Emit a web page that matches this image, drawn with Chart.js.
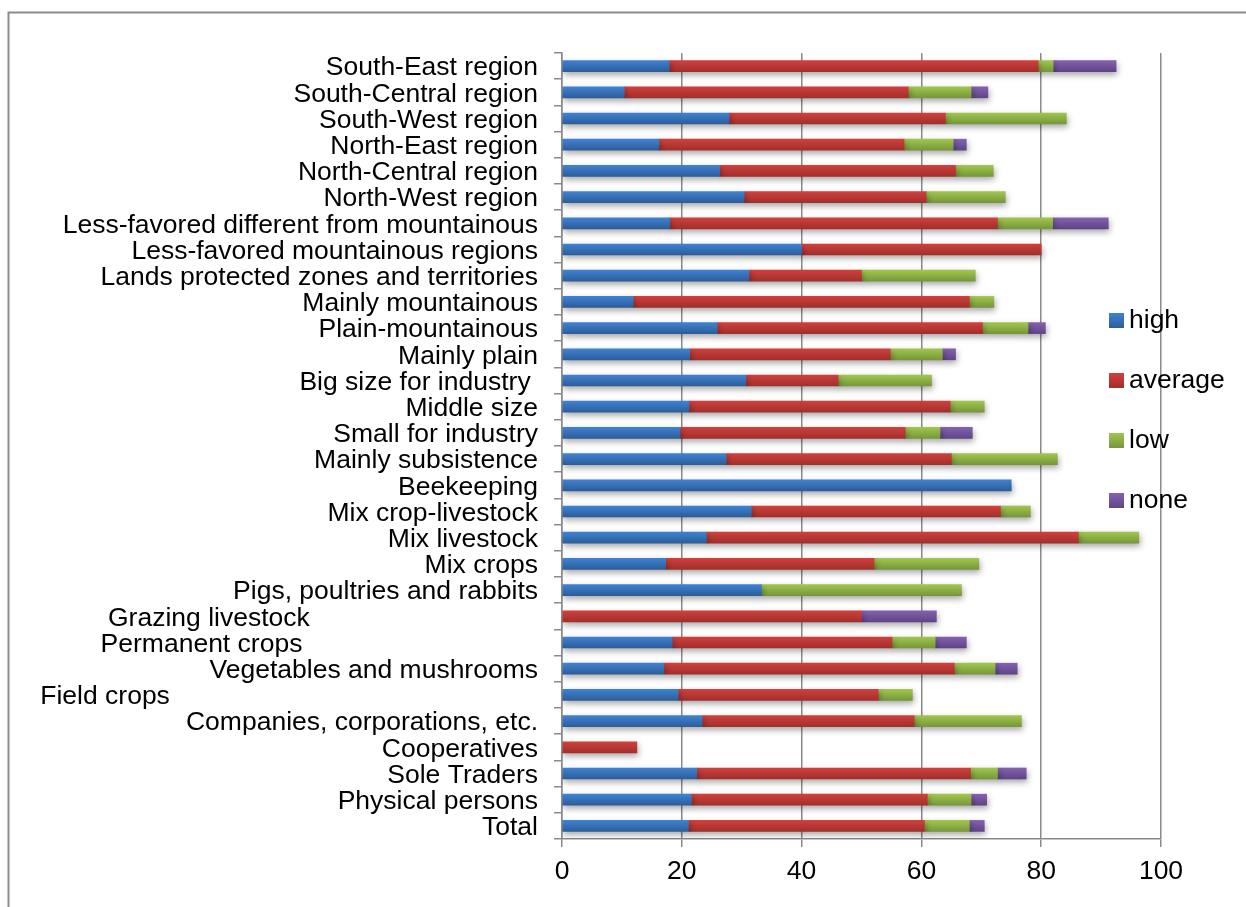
<!DOCTYPE html>
<html>
<head>
<meta charset="utf-8">
<title>Farm groups by level</title>
<script src="https://cdn.jsdelivr.net/npm/chart.js@4/dist/chart.umd.min.js"></script>
<style>
  html, body { margin: 0; padding: 0; background: #fff; }
  #wrap { position: relative; width: 1246px; height: 907px; overflow: hidden; }
  canvas { display: block; }
</style>
</head>
<body>
<div id="wrap"><canvas id="chart" width="1246" height="907"></canvas></div>
<script>
// Categories, top to bottom (trailing spaces kept as in the source labels)
const categories = [
  'South-East region',
  'South-Central region',
  'South-West region',
  'North-East region',
  'North-Central region',
  'North-West region',
  'Less-favored different from mountainous',
  'Less-favored mountainous regions',
  'Lands protected zones and territories',
  'Mainly mountainous',
  'Plain-mountainous',
  'Mainly plain',
  'Big size for industry ',
  'Middle size',
  'Small for industry',
  'Mainly subsistence',
  'Beekeeping',
  'Mix crop-livestock',
  'Mix livestock',
  'Mix crops',
  'Pigs, poultries and rabbits',
  'Grazing livestock                               ',
  'Permanent crops                                ',
  'Vegetables and mushrooms',
  'Field crops                                                  ',
  'Companies, corporations, etc.',
  'Cooperatives',
  'Sole Traders',
  'Physical persons',
  'Total'
];

const highValues = [17.9, 10.4, 27.9, 16.2, 26.3, 30.4, 18.0, 40.0, 31.2, 11.9,
                    25.9, 21.3, 30.7, 21.2, 19.7, 27.4, 75.0, 31.6, 24.1, 17.3,
                    33.3, 0, 18.4, 17.0, 19.4, 23.4, 0, 22.5, 21.6, 21.1];
const averageValues = [61.6, 47.4, 36.1, 40.9, 39.4, 30.4, 54.7, 40.0, 18.8, 56.1,
                       44.3, 33.5, 15.4, 43.6, 37.6, 37.6, 0, 41.6, 62.1, 34.8,
                       0, 50.0, 36.7, 48.5, 33.4, 35.4, 12.5, 45.7, 39.4, 39.4];
const lowValues = [2.5, 10.5, 20.2, 8.2, 6.3, 13.2, 9.2, 0, 19.0, 4.1,
                   7.6, 8.7, 15.6, 5.7, 5.8, 17.7, 0, 5.0, 10.1, 17.5,
                   33.4, 0, 7.2, 6.8, 5.7, 17.9, 0, 4.5, 7.3, 7.5];
const noneValues = [10.5, 2.8, 0, 2.2, 0, 0, 9.3, 0, 0, 0,
                    2.9, 2.2, 0, 0, 5.4, 0, 0, 0, 0, 0,
                    0, 12.5, 5.2, 3.7, 0, 0, 0, 4.8, 2.6, 2.5];

const seriesNames = ['high', 'average', 'low', 'none'];
const xTickValues = [0, 20, 40, 60, 80, 100];

// Top / bottom shades for each series
const shades = {
  high:    ['#3f82d2', '#2d5d99'],
  average: ['#d0403c', '#a12f2c'],
  low:     ['#a0c64e', '#77973a'],
  none:    ['#8461b0', '#5e4585']
};

const BAR_THICKNESS = 11;
const FONT = "'Liberation Sans', Arial, sans-serif";
const FONT_SIZE = 26.5;

function barFill(name) {
  return (ctx) => {
    const chart = ctx.chart;
    const yScale = chart.scales && chart.scales.y;
    if (!chart.chartArea || !yScale || ctx.dataIndex === undefined) return shades[name][0];
    const c = yScale.getPixelForValue(ctx.dataIndex);
    const g = chart.ctx.createLinearGradient(0, c - BAR_THICKNESS / 2, 0, c + BAR_THICKNESS / 2);
    g.addColorStop(0, shades[name][0]);
    g.addColorStop(1, shades[name][1]);
    return g;
  };
}

const seriesData = [highValues, averageValues, lowValues, noneValues];

const datasets = seriesNames.map((name, i) => ({
  label: name,
  data: seriesData[i].map(v => (v === 0 ? null : v)),
  backgroundColor: barFill(name),
  borderWidth: 0,
  barThickness: BAR_THICKNESS
}));

// Outer frame and white background
const framePlugin = {
  id: 'frame',
  beforeDraw(chart) {
    const ctx = chart.ctx;
    ctx.save();
    ctx.fillStyle = '#ffffff';
    ctx.fillRect(0, 0, chart.width, chart.height);
    ctx.strokeStyle = '#8c8c8c';
    ctx.lineWidth = 2;
    ctx.beginPath();
    ctx.moveTo(8.5, chart.height + 5);
    ctx.lineTo(8.5, 12.5);
    ctx.lineTo(chart.width + 5, 12.5);
    ctx.stroke();
    ctx.restore();
  }
};

// Soft drop shadow under the bars
const shadowPlugin = {
  id: 'barShadow',
  beforeDatasetsDraw(chart) {
    const ctx = chart.ctx;
    ctx.save();
    ctx.shadowColor = 'rgba(0,0,0,0.35)';
    ctx.shadowBlur = 6;
    ctx.shadowOffsetX = 1;
    ctx.shadowOffsetY = 3;
  },
  afterDatasetsDraw(chart) {
    chart.ctx.restore();
  }
};

// Legend drawn over the right side of the plot
const legendPlugin = {
  id: 'sideLegend',
  afterDraw(chart) {
    const ctx = chart.ctx;
    const area = chart.chartArea;
    const x = area.right - 52;
    const y0 = area.top + 267;
    const step = 60;
    ctx.save();
    ctx.font = FONT_SIZE + 'px ' + FONT;
    ctx.textBaseline = 'middle';
    ctx.textAlign = 'left';
    chart.data.datasets.forEach((ds, i) => {
      const y = y0 + i * step;
      const g = ctx.createLinearGradient(0, y - 7, 0, y + 8);
      g.addColorStop(0, shades[ds.label][0]);
      g.addColorStop(1, shades[ds.label][1]);
      ctx.fillStyle = g;
      ctx.fillRect(x, y - 7, 15, 15);
      ctx.fillStyle = '#000';
      ctx.fillText(ds.label, x + 20, y + 1);
    });
    ctx.restore();
  }
};

Chart.defaults.font.family = FONT;
Chart.defaults.font.size = FONT_SIZE;
Chart.defaults.color = '#000';

new Chart(document.getElementById('chart'), {
  type: 'bar',
  data: { labels: categories, datasets },
  plugins: [framePlugin, shadowPlugin, legendPlugin],
  options: {
    indexAxis: 'y',
    responsive: false,
    animation: false,
    layout: { padding: { top: 53, right: 85, left: 0, bottom: 0 } },
    plugins: {
      legend: { display: false },
      tooltip: { enabled: false }
    },
    scales: {
      x: {
        stacked: true,
        min: 0,
        max: 100,
        afterBuildTicks(scale) {
          scale.ticks = xTickValues.map(v => ({ value: v }));
        },
        afterFit(scale) { scale.height = 68; },
        grid: {
          color: '#8a8a8a',
          lineWidth: 1.5,
          tickLength: 8,
          drawTicks: true
        },
        border: { color: '#8a8a8a', width: 1.5 },
        ticks: { padding: 9, font: { size: FONT_SIZE }, color: '#000', maxRotation: 0 }
      },
      y: {
        stacked: true,
        afterFit(scale) { scale.width = 562; },
        grid: {
          offset: true,
          drawOnChartArea: false,
          color: '#8a8a8a',
          lineWidth: 1.5,
          tickLength: 8
        },
        border: { color: '#8a8a8a', width: 1.5 },
        ticks: { padding: 16, labelOffset: 2, font: { size: FONT_SIZE }, color: '#000', autoSkip: false }
      }
    }
  }
});
</script>
</body>
</html>
